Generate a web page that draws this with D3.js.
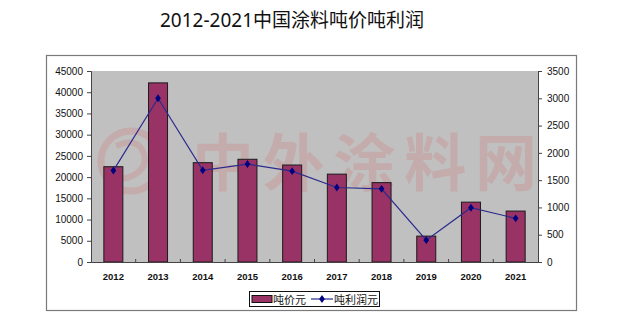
<!DOCTYPE html>
<html>
<head>
<meta charset="utf-8">
<script src="https://cdn.jsdelivr.net/npm/d3@7"></script>
<style>
  html, body { margin: 0; padding: 0; background: #fff; }
  svg { display: block; }
</style>
</head>
<body>
<svg id="chart" width="629" height="332"></svg>
<script>
// Data
const years = ["2012","2013","2014","2015","2016","2017","2018","2019","2020","2021"];
const pricePerTon = [22450, 42200, 23400, 24200, 22850, 20700, 18700, 6100, 14100, 12000];
const profitPerTon = [1675, 3000, 1680, 1795, 1665, 1365, 1340, 400, 995, 800];
const leftTicks = [0, 5000, 10000, 15000, 20000, 25000, 30000, 35000, 40000, 45000];
const rightTicks = [0, 500, 1000, 1500, 2000, 2500, 3000, 3500];
const seriesNames = ["吨价元", "吨利润元"];
const titleText = "2012-2021中国涂料吨价吨利润";
const watermarkText = "中外涂料网";

const svg = d3.select("#chart");

// Title
svg.append("text")
  .attr("x", 292).attr("y", 27)
  .attr("text-anchor", "middle")
  .attr("font-family", "'Noto Sans', 'Noto Sans CJK SC', sans-serif")
  .attr("font-size", 19)
  .attr("fill", "#111")
  .text(titleText);

// Chart frame
svg.append("rect")
  .attr("x", 46.5).attr("y", 55.5)
  .attr("width", 530).attr("height", 255)
  .attr("fill", "#fff")
  .attr("stroke", "#7a7a7a").attr("stroke-width", 1.2);

const plot = { left: 91, right: 538, top: 71, bottom: 262 };

const x = d3.scaleBand().domain(years).range([plot.left, plot.right]);
const yL = d3.scaleLinear().domain([0, 45000]).range([plot.bottom, plot.top]);
const yR = d3.scaleLinear().domain([0, 3500]).range([plot.bottom, plot.top]);

// Plot background
svg.append("rect")
  .attr("x", plot.left).attr("y", plot.top)
  .attr("width", plot.right - plot.left).attr("height", plot.bottom - plot.top)
  .attr("fill", "#c0c0c0");

svg.append("clipPath").attr("id", "plotClip")
  .append("rect")
  .attr("x", plot.left).attr("y", plot.top)
  .attr("width", plot.right - plot.left).attr("height", plot.bottom - plot.top);

// Faint watermark inside the plot area
const wm = svg.append("g").attr("clip-path", "url(#plotClip)").attr("opacity", 0.12);
wm.append("circle").attr("cx", 131).attr("cy", 161).attr("r", 30)
  .attr("fill", "none").attr("stroke", "#e0202a").attr("stroke-width", 7);
wm.append("path")
  .attr("d", "M116,146 Q138,136 144,154 Q148,168 132,176 Q120,182 114,172")
  .attr("fill", "none").attr("stroke", "#e0202a").attr("stroke-width", 6);
wm.append("text")
  .attr("x", 192).attr("y", 186)
  .attr("font-family", "'Noto Sans CJK SC', sans-serif")
  .attr("font-size", 62)
  .attr("font-weight", "bold")
  .attr("textLength", 345)
  .attr("fill", "#e0202a")
  .text(watermarkText);

// Bars
const barW = 19;
svg.append("g").selectAll("rect")
  .data(years.map((y, i) => ({ y, v: pricePerTon[i] })))
  .join("rect")
  .attr("x", d => x(d.y) + x.bandwidth() / 2 - barW / 2)
  .attr("y", d => yL(d.v))
  .attr("width", barW)
  .attr("height", d => yL(0) - yL(d.v))
  .attr("fill", "#993366")
  .attr("stroke", "#1a1a1a").attr("stroke-width", 1);

// Axes
const axisFont = "'Liberation Sans', Arial, sans-serif";
const gL = svg.append("g").attr("transform", `translate(${plot.left},0)`)
  .call(d3.axisLeft(yL).tickValues(leftTicks).tickSize(4).tickPadding(4).tickFormat(d3.format("d")));
const gR = svg.append("g").attr("transform", `translate(${plot.right},0)`)
  .call(d3.axisRight(yR).tickValues(rightTicks).tickSize(4).tickPadding(5).tickFormat(d3.format("d")));
const gX = svg.append("g").attr("transform", `translate(0,${plot.bottom})`)
  .call(d3.axisBottom(x).tickSize(0).tickPadding(11));

[gL, gR, gX].forEach(g => {
  g.select(".domain").attr("stroke", "#444");
  g.selectAll(".tick line").attr("stroke", "#444");
  g.selectAll("text").attr("font-family", axisFont).attr("font-size", 10).attr("fill", "#111");
});
gX.selectAll("text").attr("font-weight", "bold").attr("font-size", 9.5);

// Category separators on the x axis
svg.append("g").selectAll("line")
  .data(years.slice(1))
  .join("line")
  .attr("x1", d => x(d)).attr("x2", d => x(d))
  .attr("y1", plot.bottom - 3).attr("y2", plot.bottom + 1)
  .attr("stroke", "#444");

// Profit line
const line = d3.line()
  .x((d, i) => x(years[i]) + x.bandwidth() / 2)
  .y(d => yR(d));
svg.append("path")
  .datum(profitPerTon)
  .attr("d", line)
  .attr("fill", "none")
  .attr("stroke", "#2a2a8c").attr("stroke-width", 1.2);

const diamond = d3.symbol().type(d3.symbolDiamond).size(18);
svg.append("g").selectAll("path")
  .data(profitPerTon)
  .join("path")
  .attr("transform", (d, i) => `translate(${x(years[i]) + x.bandwidth() / 2},${yR(d)}) scale(1.25,1)`)
  .attr("d", diamond)
  .attr("fill", "#000080");

// Legend
const lg = svg.append("g");
lg.append("rect")
  .attr("x", 249.5).attr("y", 291.5).attr("width", 130).attr("height", 15)
  .attr("fill", "#fff").attr("stroke", "#111").attr("stroke-width", 1);
lg.append("rect")
  .attr("x", 252).attr("y", 295.5).attr("width", 20).attr("height", 7)
  .attr("fill", "#993366").attr("stroke", "#111").attr("stroke-width", 1);
lg.append("text")
  .attr("x", 273).attr("y", 303.5)
  .attr("font-family", "'Noto Sans CJK SC', sans-serif").attr("font-size", 11)
  .attr("fill", "#111").text(seriesNames[0]);
lg.append("line")
  .attr("x1", 311).attr("x2", 333).attr("y1", 299).attr("y2", 299)
  .attr("stroke", "#2a2a8c").attr("stroke-width", 1.2);
lg.append("path")
  .attr("transform", "translate(322,299) scale(1.25,1)")
  .attr("d", diamond).attr("fill", "#000080");
lg.append("text")
  .attr("x", 334).attr("y", 303.5)
  .attr("font-family", "'Noto Sans CJK SC', sans-serif").attr("font-size", 11)
  .attr("fill", "#111").text(seriesNames[1]);
</script>
</body>
</html>
